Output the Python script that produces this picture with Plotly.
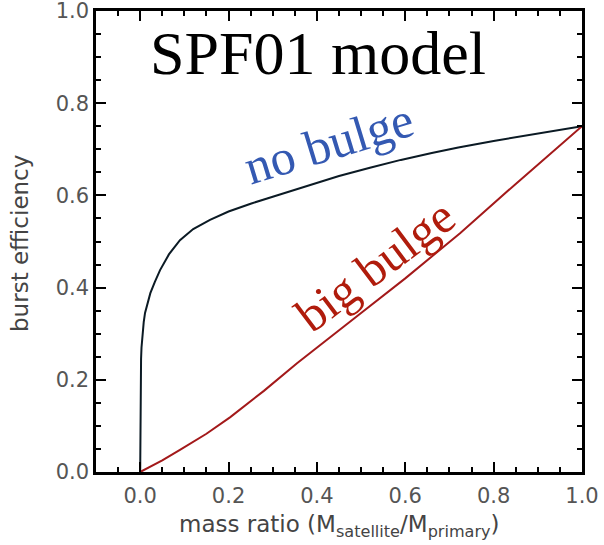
import plotly.graph_objects as go

# mass ratio / burst efficiency
nb_x = [0.0, 0.0005, 0.001, 0.002, 0.003, 0.005, 0.008, 0.011, 0.016, 0.023, 0.033, 0.045,
        0.065, 0.09, 0.12, 0.158, 0.2, 0.25, 0.3, 0.36, 0.45, 0.52, 0.59, 0.66, 0.72,
        0.8, 0.9, 1.0]
nb_y = [0.0, 0.13, 0.2, 0.245, 0.27, 0.30, 0.325, 0.345, 0.365, 0.388, 0.412, 0.438,
        0.472, 0.503, 0.527, 0.547, 0.565, 0.582, 0.597, 0.615, 0.642, 0.66, 0.677,
        0.692, 0.704, 0.718, 0.734, 0.75]

bb_x = [0.0, 0.05, 0.09, 0.15, 0.204, 0.28, 0.355, 0.452, 0.5, 0.6, 0.724, 0.85, 1.0]
bb_y = [0.0, 0.025, 0.048, 0.083, 0.119, 0.176, 0.236, 0.308, 0.345, 0.42, 0.518, 0.625, 0.75]

x_ticks = [0.0, 0.2, 0.4, 0.6, 0.8, 1.0]
y_ticks = [0.0, 0.2, 0.4, 0.6, 0.8, 1.0]

fig = go.Figure()

fig.add_trace(go.Scatter(x=nb_x, y=nb_y, mode='lines',
                         line=dict(color='#0b1a24', width=2), showlegend=False))
fig.add_trace(go.Scatter(x=bb_x, y=bb_y, mode='lines',
                         line=dict(color='#a3191a', width=2), showlegend=False))

axis_common = dict(
    showline=True, linecolor='black', linewidth=2.5, mirror='ticks',
    ticks='inside', ticklen=10, tickwidth=2, tickcolor='black',
    showgrid=False, zeroline=False, automargin=False, ticklabeloverflow='allow',
    tickfont=dict(family='DejaVu Sans', size=21, color='#555555'),
    minor=dict(ticks='inside', ticklen=5, tickwidth=2, tickcolor='black',
               dtick=0.05, showgrid=False),
)

title_font = dict(family='DejaVu Sans', size=23, color='#444444')

fig.update_layout(
    width=604, height=545,
    margin=dict(l=96, r=22, t=11, b=73),
    paper_bgcolor='white', plot_bgcolor='white',
    xaxis=dict(axis_common, range=[-0.1, 1.0], tickvals=x_ticks,
               ticktext=['%.1f' % v for v in x_ticks], ticklabelstandoff=3),
    yaxis=dict(axis_common, range=[0, 1.0], tickvals=y_ticks,
               ticktext=['%.1f' % v for v in y_ticks]),
    annotations=[
        dict(text='mass ratio (M<sub>satellite</sub>/M<sub>primary</sub>)',
             xref='paper', yref='paper', x=0.5, y=-0.118, showarrow=False,
             xanchor='center', yanchor='middle', font=title_font),
        dict(text='burst efficiency', xref='paper', yref='paper', x=-0.156, y=0.495,
             showarrow=False, textangle=-90, xanchor='center', yanchor='middle',
             font=title_font),
        dict(text='SPF01 model', xref='paper', yref='paper', x=0.457, y=0.908,
             showarrow=False, xanchor='center', yanchor='middle',
             font=dict(family='Liberation Serif', size=62, color='black')),
        dict(text='no bulge', x=0.428, y=0.714, showarrow=False, textangle=-17,
             xanchor='center', yanchor='middle',
             font=dict(family='Liberation Serif', size=50, color='#3459b2')),
        dict(text='big bulge', x=0.532, y=0.449, showarrow=False, textangle=-37,
             xanchor='center', yanchor='middle',
             font=dict(family='Liberation Serif', size=49, color='#b01c0c')),
    ],
)

fig.write_html("out.html", config={'displayModeBar': False},
               post_script="document.body.style.margin='0';")
